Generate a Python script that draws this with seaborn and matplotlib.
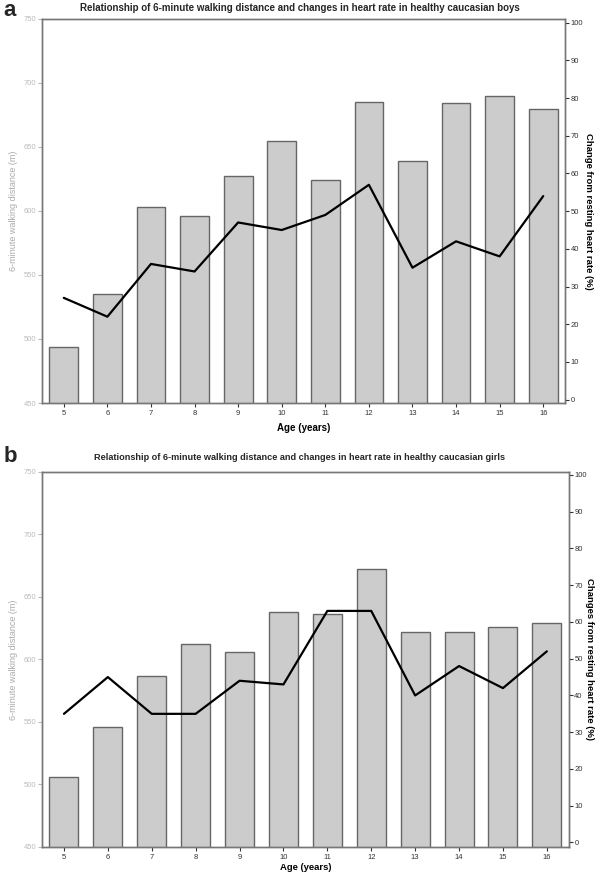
import matplotlib
matplotlib.use("Agg")
import matplotlib.pyplot as plt
import seaborn as sns
import numpy as np
import pandas as pd

ages = ["5", "6", "7", "8", "9", "10", "11", "12", "13", "14", "15", "16"]
boys_6mwd = [494, 535, 603, 596, 627, 655, 624, 685, 639, 684, 690, 680]
boys_hr = [27, 22, 36, 34, 47, 45, 49, 57, 35, 42, 38, 54]
girls_6mwd = [506, 546, 587, 612, 606, 638, 636, 672, 622, 622, 626, 629]
girls_hr = [35, 45, 35, 35, 44, 43, 63, 63, 40, 48, 42, 52]

titles = ["Relationship of 6-minute walking distance and changes in heart rate in healthy caucasian boys",
          "Relationship of 6-minute walking distance and changes in heart rate in healthy caucasian girls"]
right_labels = ["Change from resting heart rate (%)", "Changes from resting heart rate (%)"]
left_label = "6-minute walking distance (m)"
x_label = "Age (years)"
letters = ["a", "b"]

sns.set_theme(style="white")
plt.rcParams['font.family'] = ['Liberation Sans', 'DejaVu Sans']

fig = plt.figure(figsize=(6, 8.74), dpi=100)
rects = [[0.07, 0.5389, 0.8717, 0.4394], [0.07, 0.031, 0.878, 0.429]]
datasets = [(boys_6mwd, boys_hr), (girls_6mwd, girls_hr)]
title_y = [0.991, 0.477]
letter_y = [0.982, 0.4714]
spine_col = "#777777"

for i, (rect, (dist, hr)) in enumerate(zip(rects, datasets)):
    ax = fig.add_axes(rect)
    df = pd.DataFrame({"age": ages, "dist": dist, "hr": hr})
    sns.barplot(data=df, x="age", y="dist", ax=ax, color="#cccccc", saturation=1,
                width=0.66, edgecolor="#666666", linewidth=1.0)
    ax.set_ylim(450, 750)
    ax.set_xlim(-0.5, len(ages) - 0.5)
    ax.set_yticks([450, 500, 550, 600, 650, 700, 750])
    ax.tick_params(axis="y", labelsize=5.5, colors="#bbbbbb", length=3, width=0.8,
                   direction="out", left=True, pad=1)
    ax.tick_params(axis="x", labelsize=5.5, colors="#333333", length=3, width=0.8,
                   direction="out", bottom=True, pad=2)
    for lbl in ax.get_yticklabels():
        lbl.set_color("#bbbbbb")
    ax.set_ylabel(left_label, fontsize=6.5, color="#aaaaaa", labelpad=4)
    ax.set_xlabel(x_label, fontsize=7 if i == 0 else 6.8, fontweight="bold",
                  color="black", labelpad=4 if i == 0 else 1.5)
    for s in ax.spines.values():
        s.set_color(spine_col)
        s.set_linewidth(1.0)

    ax2 = ax.twinx()
    xpos = np.arange(len(ages))
    sns.lineplot(x=xpos, y=hr, ax=ax2, color="black", linewidth=1.6)
    if i == 0:
        ax2.set_ylim(-0.9, 101)
    else:
        ax2.set_ylim(-1.2, 100.8)
    ax2.set_yticks(range(0, 101, 10))
    ax2.tick_params(axis="y", labelsize=5.5, colors="#333333", length=3, width=0.8,
                    direction="out", right=True, pad=1)
    ax2.set_ylabel(right_labels[i], fontsize=6.8, fontweight="bold", rotation=270,
                   labelpad=7 if i == 0 else 5, color="black")
    for s in ax2.spines.values():
        s.set_color(spine_col)
        s.set_linewidth(1.0)
    ax2.grid(False)
    ax.grid(False)

    fig.text(0.5, title_y[i], titles[i], ha="center", va="center",
             fontsize=7 if i == 0 else 6.6, fontweight="bold")
    fig.text(0.006, letter_y[i], letters[i], ha="left", va="baseline",
             fontsize=16, fontweight="bold")

fig.savefig("out.png", dpi=100)
